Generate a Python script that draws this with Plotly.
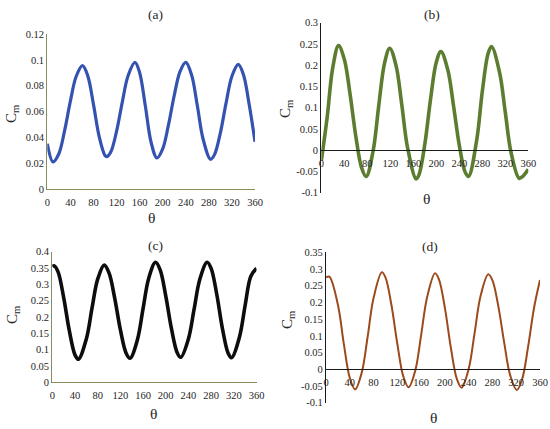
import plotly.graph_objects as go

# ---------------- data ----------------
theta_a = [0, 10, 20, 30, 40, 50, 61, 70, 80, 90, 100, 103, 110, 120, 130, 140, 152, 160, 170, 180,
           190, 200, 210, 220, 230, 240, 250, 260, 270, 283, 290, 300, 310, 320, 331, 340, 350, 360]
cm_a = [0.035, 0.021, 0.0273, 0.0452, 0.068, 0.0871, 0.0955, 0.0878, 0.0655, 0.0404, 0.0259, 0.025,
        0.0286, 0.0446, 0.0673, 0.0877, 0.098, 0.0902, 0.0641, 0.036, 0.024, 0.0311, 0.0496, 0.0724,
        0.0909, 0.098, 0.0884, 0.0646, 0.0387, 0.023, 0.0268, 0.0435, 0.0669, 0.0873, 0.0965, 0.0885,
        0.0652, 0.0366]

theta_b = [0, 10, 20, 30, 40, 50, 60, 70, 78, 90, 100, 110, 119, 130, 140, 150, 165, 170, 180, 190,
           200, 208, 220, 230, 240, 250, 256, 270, 280, 290, 296, 310, 320, 330, 344, 350, 360]
cm_b = [-0.025, 0.075, 0.195, 0.246, 0.214, 0.132, 0.033, -0.041, -0.062, -0.0025, 0.106, 0.205,
        0.240, 0.199, 0.107, 0.006, -0.0675, -0.0576, 0.0138, 0.120, 0.207, 0.232, 0.189, 0.104,
        0.0115, -0.051, -0.062, 0.0215, 0.138, 0.227, 0.244, 0.183, 0.089, -0.0054, -0.066, -0.062,
        -0.045]

theta_c = [0, 3, 10, 20, 30, 40, 46, 60, 70, 80, 91.5, 100, 110, 120, 130, 137, 150, 160, 170, 182,
           190, 200, 210, 220, 226.5, 240, 250, 260, 273, 280, 290, 300, 310, 316, 330, 340, 350, 360]
cm_c = [0.354, 0.357, 0.339, 0.260, 0.158, 0.084, 0.0704, 0.1326, 0.227, 0.316, 0.359, 0.335, 0.258,
        0.161, 0.0899, 0.0735, 0.130, 0.2255, 0.319, 0.3675, 0.345, 0.265, 0.165, 0.0916, 0.0766,
        0.133, 0.224, 0.315, 0.3675, 0.349, 0.269, 0.164, 0.089, 0.0753, 0.139, 0.236, 0.325, 0.349]

theta_d = [0, 5.6, 20, 30, 40, 49, 60, 70, 80, 94, 100, 110, 120, 130, 139, 150, 160, 170, 183.5,
           190, 200, 210, 220, 228, 240, 250, 260, 273, 280, 290, 300, 310, 321, 330, 340, 350, 360]
cm_d = [0.275, 0.277, 0.193, 0.076, -0.0258, -0.060, -0.0108, 0.0966, 0.213, 0.290, 0.275, 0.193,
        0.0764, -0.0211, -0.054, -0.0051, 0.1015, 0.215, 0.287, 0.269, 0.1836, 0.0652, -0.0283,
        -0.055, 0.0011, 0.1086, 0.219, 0.284, 0.266, 0.1876, 0.0773, -0.0189, -0.062, -0.0293,
        0.0676, 0.184, 0.267]

x_ticks = [0, 40, 80, 120, 160, 200, 240, 280, 320, 360]
y_ticks_a = [0, 0.02, 0.04, 0.06, 0.08, 0.1, 0.12]
y_text_a = ["0", "0.02", "0.04", "0.06", "0.08", "0.1", "0.12"]
y_ticks_b = [-0.1, -0.05, 0, 0.05, 0.1, 0.15, 0.2, 0.25, 0.3]
y_text_b = ["-0.1", "-0.05", "0", "0.05", "0.1", "0.15", "0.2", "0.25", "0.3"]
y_ticks_c = [0, 0.05, 0.1, 0.15, 0.2, 0.25, 0.3, 0.35, 0.4]
y_text_c = ["0", "0.05", "0.1", "0.15", "0.2", "0.25", "0.3", "0.35", "0.4"]
y_ticks_d = [-0.1, -0.05, 0, 0.05, 0.1, 0.15, 0.2, 0.25, 0.3, 0.35]
y_text_d = ["-0.1", "-0.05", "0", "0.05", "0.1", "0.15", "0.2", "0.25", "0.3", "0.35"]
panel_titles = ["(a)", "(b)", "(c)", "(d)"]

# ---------------- figure ----------------
W, H = 550, 429
FONT = "Liberation Serif"
OLIVE = "#8a8a5a"
TXT = "#262626"


def px(x):
    return x / W


def py(y):
    return 1 - y / H


fig = go.Figure()
fig.add_trace(go.Scatter(x=theta_a, y=cm_a, mode="lines", xaxis="x", yaxis="y",
                         line=dict(color="#3452b0", width=3.2, shape="spline", smoothing=1)))
fig.add_trace(go.Scatter(x=theta_b, y=cm_b, mode="lines", xaxis="x2", yaxis="y2",
                         line=dict(color="#5c7d30", width=3.6, shape="spline", smoothing=1)))
fig.add_trace(go.Scatter(x=theta_c, y=cm_c, mode="lines", xaxis="x3", yaxis="y3",
                         line=dict(color="#0d0d0d", width=3.6, shape="spline", smoothing=1)))
fig.add_trace(go.Scatter(x=theta_d, y=cm_d, mode="lines", xaxis="x4", yaxis="y4",
                         line=dict(color="#9c4a1c", width=2, shape="spline", smoothing=1)))

tickfont = dict(family=FONT, size=10.5, color=TXT)


def xax(domain, anchor, linecolor, position=None):
    d = dict(domain=domain, range=[0, 360], tickvals=x_ticks, ticktext=[str(v) for v in x_ticks],
             showline=True, linecolor=linecolor, linewidth=1.2, showgrid=False, zeroline=False,
             ticks="", tickfont=tickfont, ticklabelstandoff=3, fixedrange=True, automargin=False)
    if position is None:
        d["anchor"] = anchor
    else:
        d["anchor"] = "free"
        d["position"] = position
    return d


def yax(domain, anchor, rng, vals, texts, linecolor):
    return dict(domain=domain, anchor=anchor, range=rng, tickvals=vals, ticktext=texts,
                showline=True, linecolor=linecolor, linewidth=1.2, showgrid=False, zeroline=False,
                ticks="", tickfont=tickfont, fixedrange=True, automargin=False)


# pixel boxes of the four plot areas
dom_ya = [py(189), py(34)]
dom_yb = [py(192.7), py(22.7)]
dom_yc = [py(382.3), py(251.7)]
dom_yd = [py(402.7), py(252.3)]
rng_b = [-0.1, 0.3]
rng_d = [-0.1, 0.35]
pos_b = dom_yb[0] + (0 - rng_b[0]) / (rng_b[1] - rng_b[0]) * (dom_yb[1] - dom_yb[0])
pos_d = dom_yd[0] + (0 - rng_d[0]) / (rng_d[1] - rng_d[0]) * (dom_yd[1] - dom_yd[0])

fig.update_layout(
    width=W, height=H, autosize=False,
    margin=dict(l=0, r=0, t=0, b=0, pad=0),
    paper_bgcolor="white", plot_bgcolor="rgba(0,0,0,0)",
    showlegend=False,
    font=dict(family=FONT, color=TXT),
    xaxis=xax([px(47.3), px(255)], "y", OLIVE),
    yaxis=yax(dom_ya, "x", [0, 0.12], y_ticks_a, y_text_a, OLIVE),
    xaxis2=xax([px(321.3), px(528.3)], "y2", "#1a1a1a", position=pos_b),
    yaxis2=yax(dom_yb, "x2", rng_b, y_ticks_b, y_text_b, "#1a1a1a"),
    xaxis3=xax([px(52.3), px(256.5)], "y3", OLIVE),
    yaxis3=yax(dom_yc, "x3", [0, 0.4], y_ticks_c, y_text_c, OLIVE),
    xaxis4=xax([px(326), px(540)], "y4", "#1a1a1a", position=pos_d),
    yaxis4=yax(dom_yd, "x4", rng_d, y_ticks_d, y_text_d, "#1a1a1a"),
)

ann = []
title_pos = [(155, 14), (432, 14), (155, 245), (430, 246)]
for t, (x, y) in zip(panel_titles, title_pos):
    ann.append(dict(text=t, x=px(x), y=py(y), xref="paper", yref="paper", showarrow=False,
                    xanchor="center", yanchor="middle", font=dict(family=FONT, size=13.5, color=TXT)))
cm_pos = [(12, 114), (286, 109), (13, 315), (288, 320)]
for (x, y) in cm_pos:
    ann.append(dict(text="C<sub>m</sub>", x=px(x), y=py(y), xref="paper", yref="paper",
                    showarrow=False, textangle=-90, xanchor="center", yanchor="middle",
                    font=dict(family=FONT, size=15, color=TXT)))
th_pos = [(151, 217), (426, 198), (153, 413), (433, 417)]
for (x, y) in th_pos:
    ann.append(dict(text="θ", x=px(x), y=py(y), xref="paper", yref="paper", showarrow=False,
                    xanchor="center", yanchor="middle", font=dict(family=FONT, size=15.5, color=TXT)))
fig.update_layout(annotations=ann)

# remove the browser's default 8px page margin so the figure sits at the window origin
fig.write_html("out.html", config={"displayModeBar": False},
               post_script="document.body.style.margin='0';document.body.style.overflow='hidden';")
